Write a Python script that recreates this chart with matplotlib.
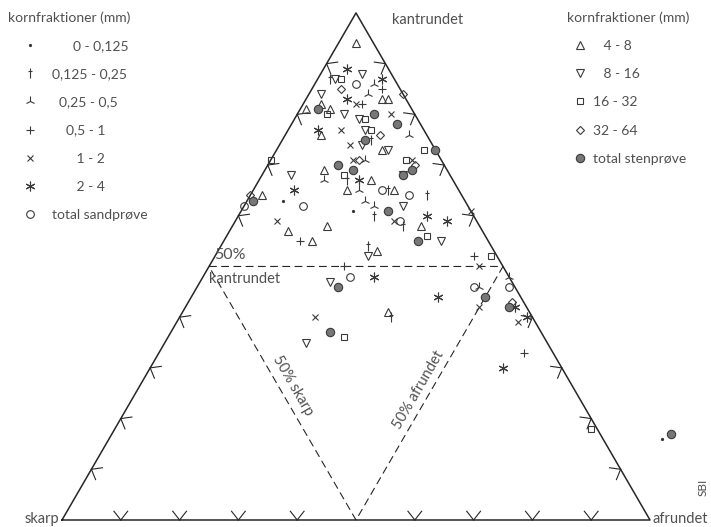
import numpy as np
import matplotlib
matplotlib.use("Agg")
from matplotlib import pyplot as plt
from matplotlib.path import Path
from matplotlib.lines import Line2D

plt.rcParams['font.family'] = ['Lato', 'DejaVu Sans']

TEXT = '#505050'
LINE = '#262626'
H = np.sqrt(3) / 2

# values in percent: kantrundet (top corner) and afrundet (right corner),
# skarp (left corner) is the rest
f1_kant = [63, 61, 16]
f1_afr = [6, 19, 94]
f2_kant = [87, 75, 67, 65, 60, 58, 54, 40, 64]
f2_afr = [2, 15, 15, 23, 23, 29, 25, 36, 30]
f3_kant = [86, 84, 76, 71, 67, 65, 63, 62, 46, 48]
f3_afr = [10, 10, 21, 16, 11, 18, 20, 22, 48, 52]
f4_kant = [85, 82, 55, 52, 50, 33]
f4_afr = [12, 10, 13, 44, 23, 62]
f5_kant = [82, 80, 77, 74, 71, 71, 59, 59, 61, 50, 42, 39, 40]
f5_afr = [9, 16, 9, 12, 24, 14, 27, 7, 39, 46, 50, 58, 23]
f6_kant = [89, 87, 83, 77, 67, 65, 60, 59, 48, 44, 42, 40, 30]
f6_afr = [4, 11, 7, 5, 17, 7, 32, 36, 29, 42, 56, 59, 60]
sand_kant = [86, 65, 64, 62, 62, 59, 48, 46, 46]
sand_afr = [7, 22, 27, 0, 10, 28, 25, 47, 53]

f7_kant = [94, 82, 81, 81, 83, 83, 76, 73, 69, 65, 67, 65, 64, 58, 57, 58, 55, 53, 41]
f7_afr = [3, 3, 5, 1, 13, 14, 6, 18, 10, 16, 19, 24, 2, 32, 10, 16, 15, 27, 35]
f8_kant = [88, 87, 84, 80, 79, 77, 74, 73, 68, 68, 62, 55, 52, 47, 35]
f8_afr = [7, 3, 2, 8, 11, 13, 14, 19, 24, 5, 27, 37, 26, 22, 24]
f9_kant = [87, 80, 79, 77, 73, 71, 71, 68, 56, 52, 36, 18]
f9_afr = [4, 5, 12, 14, 25, 23, 0, 14, 34, 47, 30, 81]
f10_kant = [85, 84, 76, 70, 71, 64, 43]
f10_afr = [5, 16, 16, 25, 15, 0, 55]
sten_kant = [81, 80, 78, 75, 73, 69, 68, 70, 69, 63, 61, 55, 46, 44, 37, 42, 17]
sten_afr = [3, 13, 18, 14, 27, 25, 24, 12, 15, 1, 25, 33, 24, 50, 27, 55, 95]

left_labels = ["      0 - 0,125", "0,125 - 0,25", "  0,25 - 0,5", "    0,5 - 1",
               "       1 - 2", "       2 - 4", "total sandprøve"]
right_labels = ["   4 - 8", "   8 - 16", "16 - 32", "32 - 64", "total stenprøve"]

tick_fracs = [0.1, 0.2, 0.3, 0.4, 0.6, 0.7, 0.8, 0.9]

dagger = Path([(0, -1), (0, 1), (-0.45, 0.45), (0.45, 0.45)],
              [Path.MOVETO, Path.LINETO, Path.MOVETO, Path.LINETO])


def to_xy(kant, afr):
    kant = np.asarray(kant, float) / 100
    afr = np.asarray(afr, float) / 100
    return afr + kant / 2, kant * H


# (kant, afr, marker, size, face)
left_series = [
    (f1_kant, f1_afr, '.', 3, LINE),
    (f2_kant, f2_afr, dagger, 7, 'none'),
    (f3_kant, f3_afr, '2', 7, 'none'),
    (f4_kant, f4_afr, '+', 6, 'none'),
    (f5_kant, f5_afr, 'x', 4, 'none'),
    (f6_kant, f6_afr, (6, 2, 0), 7, 'none'),
    (sand_kant, sand_afr, 'o', 5.5, 'none'),
]
right_series = [
    (f7_kant, f7_afr, '^', 6, 'none'),
    (f8_kant, f8_afr, 'v', 6, 'none'),
    (f9_kant, f9_afr, 's', 5, 'none'),
    (f10_kant, f10_afr, 'D', 4.5, 'none'),
    (sten_kant, sten_afr, 'o', 6, '#777777'),
]


def main():
    fig = plt.figure(figsize=(7.11, 5.27), dpi=100)
    ax = fig.add_axes([0, 0, 1, 1])
    ax.set_xlim(-62 / 588, 649 / 588)
    ax.set_ylim(-7 / 585.5, 520 / 585.5)
    ax.axis('off')

    corners = np.array([[0, 0], [1, 0], [0.5, H]])
    ax.plot([0, 1, 0.5, 0], [0, 0, H, 0], color=LINE, lw=1.1, zorder=2)

    # inner dashed triangle through the 50 % points
    mids = np.array([[0.25, H / 2], [0.75, H / 2], [0.5, 0], [0.25, H / 2]])
    ax.plot(mids[:, 0], mids[:, 1], color=LINE, lw=0.8, ls=(0, (7, 4)), zorder=2)

    # chevron ticks on each side
    edges = [(corners[0], corners[1]), (corners[1], corners[2]), (corners[2], corners[0])]
    L, th = 0.019, np.radians(38)
    for a, b in edges:
        u = (b - a) / np.linalg.norm(b - a)
        n = np.array([-u[1], u[0]])
        for t in tick_fracs:
            p = a + t * (b - a)
            for s in (-1, 1):
                q = p + L * (n * np.cos(th) + s * u * np.sin(th))
                ax.plot([p[0], q[0]], [p[1], q[1]], color=LINE, lw=0.8, zorder=2)

    handles_l, handles_r = [], []
    for series, handles in ((left_series, handles_l), (right_series, handles_r)):
        for kant, afr, mk, ms, face in series:
            x, y = to_xy(kant, afr)
            kw = dict(ls='none', marker=mk, ms=ms, mfc=face, mec='#3a3a3a', mew=0.8)
            ax.plot(x, y, zorder=3, **kw)
            handles.append(Line2D([], [], **kw))

    tk = dict(color=TEXT, fontsize=10.5)
    ax.text(0.561, 0.854, "kantrundet", ha='left', va='center', **tk)
    ax.text(-0.004, 0.002, "skarp", ha='right', va='center', **tk)
    ax.text(1.005, 0.002, "afrundet", ha='left', va='center', **tk)
    ax.text(1.090, 0.055, "SBI", ha='center', va='center', rotation=90,
            color=TEXT, fontsize=8.5)
    ax.text(0.286, 0.452, "50%", ha='center', va='center', color=TEXT, fontsize=11.5)
    ax.text(0.311, 0.412, "kantrundet", ha='center', va='center', **tk)
    ax.text(0.392, 0.229, "50% skarp", ha='center', va='center', rotation=-60,
            rotation_mode='anchor', **tk)
    ax.text(0.606, 0.222, "50% afrundet", ha='center', va='center', rotation=60,
            rotation_mode='anchor', **tk)

    lg_kw = dict(frameon=False, fontsize=10, title_fontsize=10, labelcolor=TEXT,
                 alignment='left', borderpad=0, borderaxespad=0,
                 labelspacing=1.17, handletextpad=0.0, loc='upper left',
                 bbox_transform=fig.transFigure)
    leg1 = ax.legend(handles_l, left_labels, title="kornfraktioner (mm)",
                     bbox_to_anchor=(8 / 711, 1 - 11 / 527), handlelength=3.2, **lg_kw)
    leg1.get_title().set_color(TEXT)
    ax.add_artist(leg1)
    leg2 = ax.legend(handles_r, right_labels, title="kornfraktioner (mm)",
                     bbox_to_anchor=(567 / 711, 1 - 11 / 527), handlelength=1.9, **lg_kw)
    leg2.get_title().set_color(TEXT)

    fig.savefig("out.png", dpi=100)
    plt.close(fig)


if __name__ == "__main__":
    main()
